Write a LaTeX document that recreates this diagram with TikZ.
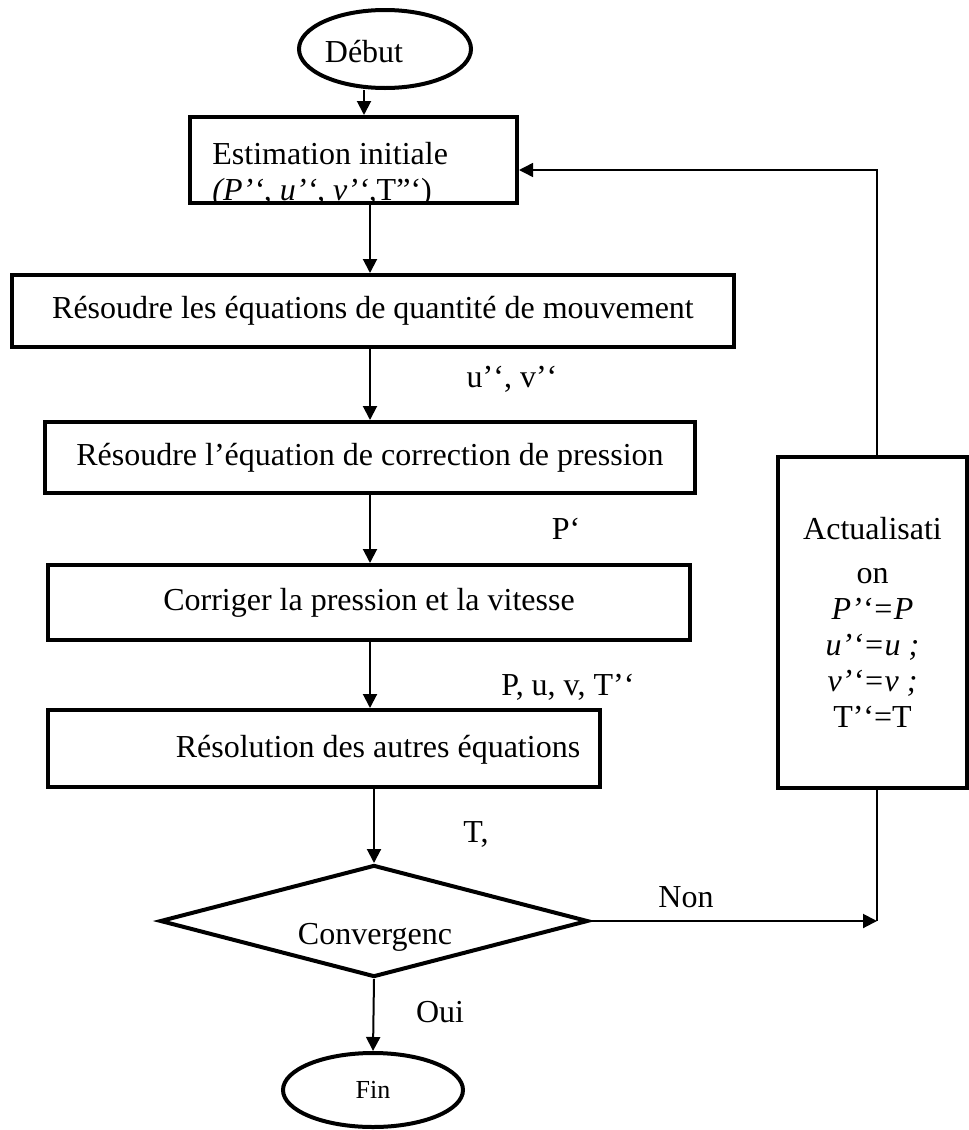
\documentclass[tikz,border=0pt]{standalone}
\usepackage{fontspec}
\setmainfont{Liberation Serif}
\usetikzlibrary{positioning, shapes.geometric, arrows.meta}

\begin{document}
\begin{tikzpicture}[x=0.5pt, y=-0.5pt]

      \tikzset{
        basicbox/.style={
            shape=rectangle,
            draw=black,
            line width=2pt,
            fill=white,
            inner sep=0pt
          },
        basicellipse/.style={
            shape=ellipse,
            draw=black,
            line width=2pt,
            fill=white,
            inner sep=0pt
          },
        basicdiamond/.style={
            shape=diamond,
            draw=black,
            line width=2pt,
            fill=white,
            inner sep=0pt
          },
        flowtext/.style={font=\fontsize{16}{18}\selectfont, inner sep=0pt},
        flow/.style={line width=1pt, -{Triangle[length=7pt,width=7pt]}}
      }

      \useasboundingbox (0,0) rectangle (969,1130);
      \coordinate (axis) at (370,0);

      \node[basicellipse, minimum width=86pt, minimum height=39pt] (debut) at (385,49) {};
      \node[flowtext] (debuttxt) at (364,52) {Début};

      \node[basicbox, minimum width=163.5pt, minimum height=43pt] (est) at (353.5,160) {};
      \begin{scope}
        \clip ([shift={(1pt,-1pt)}]est.north west) rectangle ([shift={(-1pt,1pt)}]est.south east);
        \node[flowtext, align=left, anchor=west] (esttxt) at (212,175)
          {Estimation initiale\\\textit{(P’‘, u’‘, v’‘,}T”‘)};
      \end{scope}

      \node[basicbox, flowtext, minimum width=361pt, minimum height=36pt] (qdm) at (373,311)
        {Résoudre les équations de quantité de mouvement};
      \node[basicbox, flowtext, minimum width=325pt, minimum height=35.5pt] (corr) at (370,457.5)
        {Résoudre l’équation de correction de pression};
      \node[basicbox, flowtext, minimum width=321pt, minimum height=37.5pt] (pv) at (369,602.5)
        {Corriger la pression et la vitesse};
      \node[basicbox, minimum width=276pt, minimum height=38.5pt] (autres) at (324,748.5) {};
      \node[flowtext] (autrestxt) at (378,750) {Résolution des autres équations};

      \node[basicdiamond, minimum width=214pt, minimum height=56pt] (conv) at (374,921) {};
      \node[flowtext] (convtxt) at (375,937) {Convergenc};

      \node[basicellipse, minimum width=90pt, minimum height=37pt, font=\fontsize{13}{15}\selectfont] (fin) at (373,1090) {Fin};

      \node[basicbox, flowtext, align=center, minimum width=94.5pt, minimum height=165.5pt] (actu) at (872.5,622.5)
        {Actualisati\\[4pt]on\\\textit{P’‘=P}\\\textit{u’‘=u ;}\\\textit{v’‘=v ;}\\T’‘=T};
      \coordinate (actutop) at ([xshift=2.25pt]actu.north);
      \coordinate (actubot) at ([xshift=2.25pt]actu.south);

      % flux principal
      \draw[flow] (debut.south -| debuttxt) -- (est.north -| debuttxt);
      \draw[flow] (est.south -| axis) -- (qdm.north -| axis);
      \draw[flow] (qdm.south -| axis) -- (corr.north -| axis);
      \draw[flow] (corr.south -| axis) -- (pv.north -| axis);
      \draw[flow] (pv.south -| axis) -- (autres.north -| axis);
      \draw[flow] (autres.south -| conv) -- (conv.north);
      \draw[flow] (conv.south) -- (fin.north);

      % boucle
      \coordinate (nonend) at (actubot |- conv.east);
      \draw[flow] (conv.east) -- (nonend);
      \draw[line width=0.75pt] (actubot) -- (nonend);
      \draw[flow, line width=0.75pt] (actutop) |- ([yshift=-5pt]est.east);

      % labels
      \node[flowtext] (uvlab) at (512,379) {u’‘, v’‘};
      \node[flowtext] (plab) at (566,529) {P‘};
      \node[flowtext] (puvlab) at (568,687) {P, u, v, T’‘};
      \node[flowtext] (tlab) at (476,834) {T,};
      \node[flowtext] (nonlab) at (686,897) {Non};
      \node[flowtext] (ouilab) at (440,1012) {Oui};

\end{tikzpicture}
\end{document}
